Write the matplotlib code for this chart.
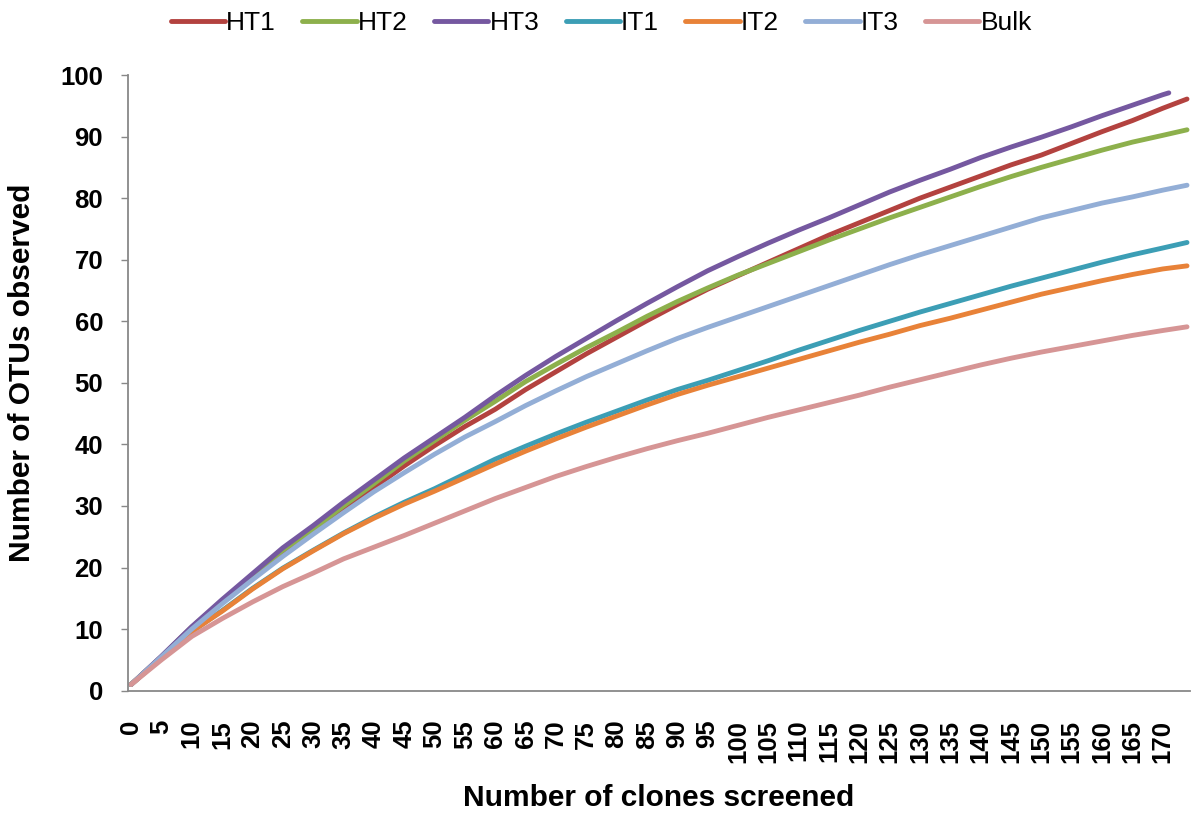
import matplotlib.pyplot as plt
import numpy as np

plt.rcParams['font.family'] = ['Liberation Sans', 'DejaVu Sans']

# number of clones screened (sample positions)
clones = [0, 5, 10, 15, 20, 25, 30, 35, 40, 45, 50, 55, 60, 65, 70, 75, 80, 85,
          90, 95, 100, 105, 110, 115, 120, 125, 130, 135, 140, 145, 150, 155,
          160, 165, 170, 174]
clones_ht3 = clones[:-1] + [171]

ht1 = [1, 5.5, 10.3, 14.5, 18.6, 22.6, 26.0, 29.6, 33.0, 36.5, 39.8, 42.9, 45.7,
       48.9, 51.8, 54.7, 57.4, 60.1, 62.7, 65.2, 67.4, 69.6, 71.8, 74.0, 76.0,
       78.0, 80.0, 81.8, 83.6, 85.4, 87.0, 88.9, 90.8, 92.6, 94.6, 96.1]
ht2 = [1, 5.5, 10.3, 14.6, 18.8, 22.8, 26.2, 30.0, 33.6, 37.3, 40.6, 43.9, 47.0,
       50.2, 53.0, 55.7, 58.2, 60.8, 63.2, 65.4, 67.5, 69.4, 71.3, 73.2, 75.0,
       76.8, 78.5, 80.2, 81.9, 83.5, 85.0, 86.4, 87.8, 89.1, 90.2, 91.1]
ht3 = [1, 5.6, 10.4, 14.8, 19.0, 23.2, 26.8, 30.6, 34.2, 37.8, 41.1, 44.4, 47.9,
       51.2, 54.3, 57.2, 60.1, 62.9, 65.6, 68.2, 70.5, 72.7, 74.8, 76.8, 78.9,
       81.0, 82.9, 84.7, 86.6, 88.3, 89.9, 91.6, 93.4, 95.1, 96.8, 97.1]
it1 = [1, 5.3, 9.6, 13.0, 16.6, 19.9, 22.8, 25.6, 28.2, 30.6, 32.8, 35.2, 37.6,
       39.7, 41.7, 43.6, 45.4, 47.2, 48.9, 50.4, 52.0, 53.6, 55.3, 56.9, 58.5,
       60.0, 61.5, 62.9, 64.3, 65.7, 67.0, 68.3, 69.6, 70.8, 71.9, 72.8]
it2 = [1, 5.3, 9.6, 12.9, 16.5, 19.8, 22.7, 25.5, 28.0, 30.3, 32.4, 34.6, 36.8,
       38.9, 40.9, 42.8, 44.6, 46.4, 48.1, 49.6, 51.0, 52.4, 53.8, 55.2, 56.6,
       57.9, 59.3, 60.5, 61.8, 63.1, 64.4, 65.5, 66.6, 67.6, 68.5, 69.0]
it3 = [1, 5.5, 10.0, 14.1, 18.0, 21.8, 25.4, 28.9, 32.3, 35.4, 38.4, 41.2, 43.7,
       46.3, 48.7, 51.0, 53.1, 55.2, 57.2, 59.0, 60.7, 62.4, 64.1, 65.8, 67.5,
       69.2, 70.8, 72.3, 73.8, 75.3, 76.8, 78.0, 79.2, 80.2, 81.3, 82.1]
bulk = [1, 5.0, 8.8, 11.7, 14.4, 16.9, 19.1, 21.4, 23.3, 25.2, 27.2, 29.2, 31.2,
        33.0, 34.8, 36.4, 37.9, 39.3, 40.6, 41.8, 43.1, 44.4, 45.6, 46.8, 48.0,
        49.3, 50.5, 51.7, 52.9, 54.0, 55.0, 55.9, 56.8, 57.7, 58.5, 59.1]

labels = ['HT1', 'HT2', 'HT3', 'IT1', 'IT2', 'IT3', 'Bulk']
colors = ['#B3423F', '#8DB04C', '#7558A0', '#3C9EB5', '#E88238', '#93AED6', '#D69595']
series = [ht1, ht2, ht3, it1, it2, it3, bulk]
xs = [clones, clones, clones_ht3, clones, clones, clones, clones]

fig = plt.figure(figsize=(11.91, 8.19), dpi=100)
ax = fig.add_axes([0.1075, 0.1567, 0.8917, 0.7517])

for x, y, lab, c in zip(xs, series, labels, colors):
    ax.plot(x, y, color=c, lw=3.5, label=lab, solid_capstyle='round')

ax.set_xlim(-0.5, 174.5)
ax.set_ylim(0, 100)
ax.set_yticks(np.arange(0, 101, 10))
ax.set_xticks(np.arange(0, 171, 5))
ax.tick_params(axis='y', length=5, width=1, color='#888888', pad=13, labelsize=18.5)
ax.tick_params(axis='x', length=0, pad=21, labelsize=18.5, labelrotation=90)
for lab in ax.get_xticklabels() + ax.get_yticklabels():
    lab.set_fontweight('bold')

for s in ['top', 'right']:
    ax.spines[s].set_visible(False)
for s in ['left', 'bottom']:
    ax.spines[s].set_color('#888888')
    ax.spines[s].set_linewidth(1.3)

ax.set_xlabel('Number of clones screened', fontsize=21.5, fontweight='bold')
ax.set_ylabel('Number of OTUs observed', fontsize=21.5, fontweight='bold')
ax.xaxis.set_label_coords(0.5, -0.152)
ax.yaxis.set_label_coords(-0.087, 0.516)

fig.legend(loc='center', bbox_to_anchor=(0.505, 0.972), ncol=7, frameon=False,
           fontsize=19, handlelength=2.05, handletextpad=0.05, columnspacing=1.0)

fig.savefig('out.png', dpi=100)
